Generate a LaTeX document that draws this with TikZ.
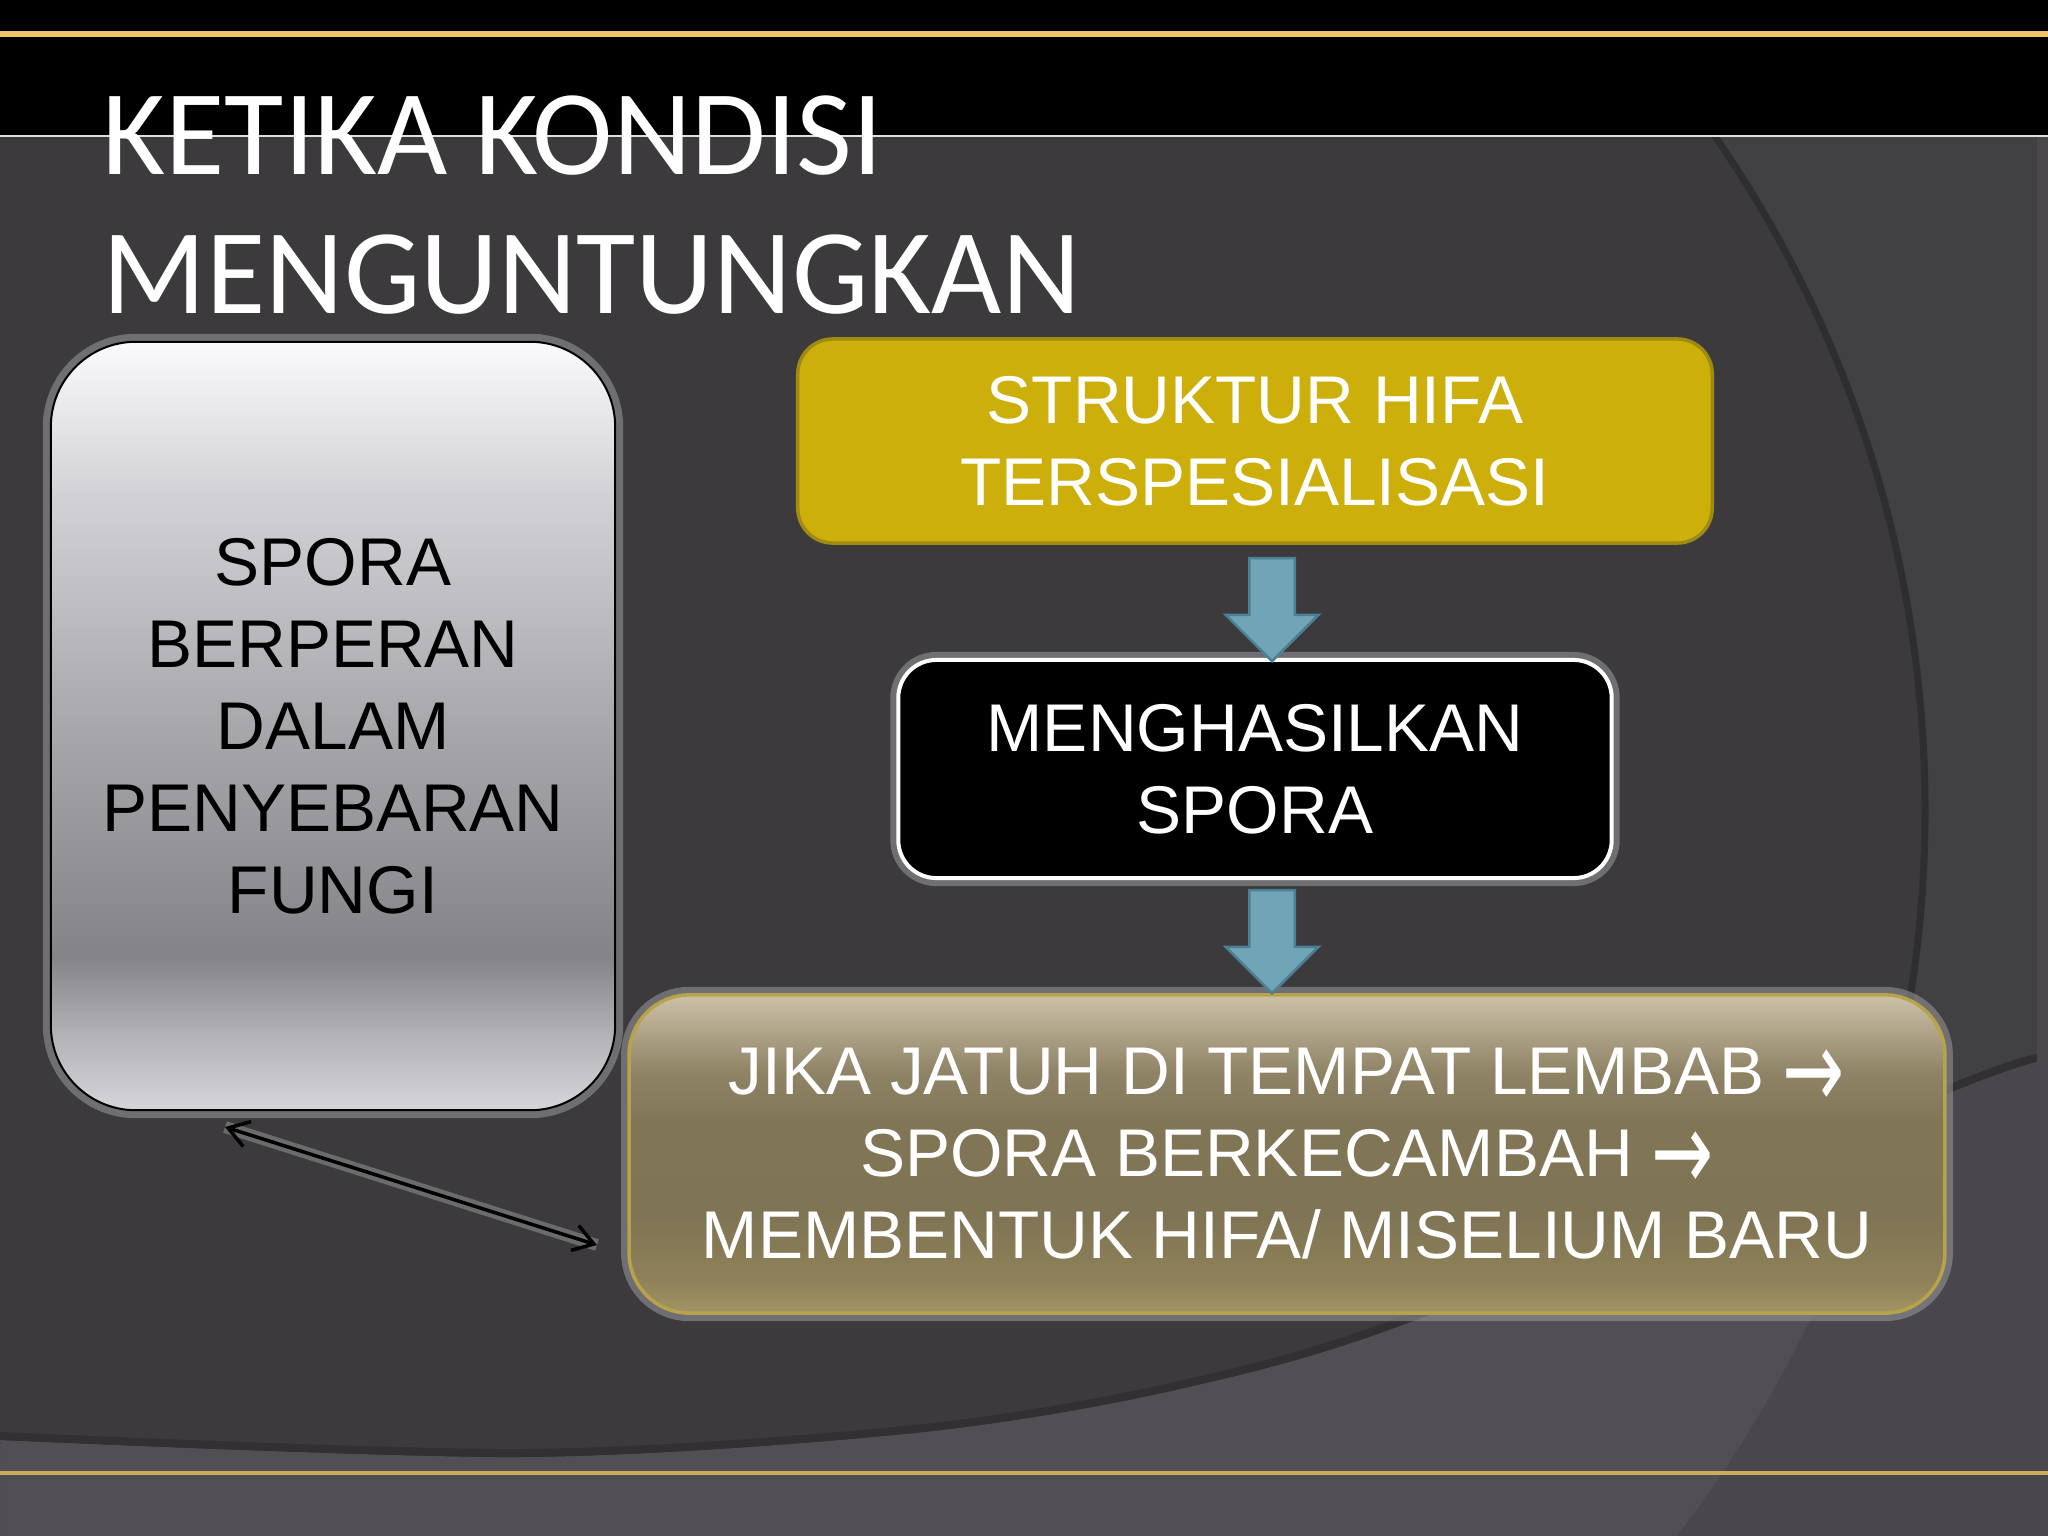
\documentclass[tikz,border=0pt]{standalone}
\usepackage{fontspec}
\setmainfont{Liberation Sans}
\newfontfamily\titlefont{Carlito}
\newfontfamily\arrowfont{DejaVu Sans}
\usetikzlibrary{shapes.arrows,arrows.meta}

\definecolor{bgbase}{HTML}{3C3A3D}
\definecolor{bgright}{HTML}{414042}
\definecolor{bgarc}{HTML}{2E2D30}
\definecolor{bglow}{HTML}{514F53}
\definecolor{bglowright}{HTML}{49474B}
\definecolor{bgband}{HTML}{323033}
\definecolor{bgrim}{HTML}{4A484C}
\definecolor{topgold}{HTML}{F0C366}
\definecolor{botgold}{HTML}{CDAC58}
\definecolor{glowgray}{HTML}{9A9A9E}
\definecolor{hifafill}{HTML}{CDAF0B}
\definecolor{hifaline}{HTML}{9F8A12}
\definecolor{tanline}{HTML}{B8A24A}
\definecolor{arrfill}{HTML}{6FA5B6}
\definecolor{arrline}{HTML}{4C8092}
\definecolor{spA}{HTML}{D6D6DA}
\definecolor{spB}{HTML}{B2B2B6}
\definecolor{spC}{HTML}{848488}
\definecolor{spD}{HTML}{A8A8AC}
\definecolor{spE}{HTML}{D2D2D6}
\definecolor{spF}{HTML}{FAFAFC}
\definecolor{tnA}{HTML}{A39465}
\definecolor{tnB}{HTML}{8F8259}
\definecolor{tnC}{HTML}{7F7454}
\definecolor{tnD}{HTML}{807555}
\definecolor{tnE}{HTML}{8F8466}
\definecolor{tnF}{HTML}{B3A88C}
\definecolor{tnG}{HTML}{CBC1A8}

\pgfdeclareverticalshading{sporashade}{100bp}{color(0bp)=(spA); color(25bp)=(spA); color(30bp)=(spB); color(35bp)=(spC); color(50bp)=(spD); color(65bp)=(spE); color(75bp)=(spF); color(100bp)=(spF)}
\pgfdeclareverticalshading{tanshade}{100bp}{color(0bp)=(tnA); color(25bp)=(tnA); color(30bp)=(tnB); color(40bp)=(tnC); color(55bp)=(tnD); color(63bp)=(tnE); color(70bp)=(tnF); color(75bp)=(tnG); color(100bp)=(tnG)}

\newcommand{\nextstep}{\raisebox{-0.2em}{\scalebox{1.1}[1.65]{\arrowfont →}}}

\begin{document}
\begin{tikzpicture}[x=0.01cm,y=-0.01cm]
  \tikzstyle{box}=[rectangle,align=center,inner sep=0pt,font=\fontsize{19.2}{23.3}\selectfont]
  \tikzstyle{glow}=[preaction={draw=glowgray,line width=0.16cm,opacity=0.55}]
  \tikzstyle{blockarr}=[single arrow,draw=arrline,fill=arrfill,line width=0.025cm,minimum height=1.03cm,minimum width=0.9cm,single arrow head extend=0.235cm,inner xsep=0pt,inner ysep=0.215cm,rotate=-90,anchor=tip]
  \tikzstyle{heading}=[anchor=base west,text=white,inner sep=0pt,font=\titlefont\fontsize{34.5}{40}\selectfont]
  \useasboundingbox (0,0) rectangle (2048,1536);

  \fill[bgbase] (0,0) rectangle (2048,1536);
  \fill[bgright,even odd rule] (0,0) rectangle (2048,1536) (740,810) circle[radius=1185];
  \begin{scope}
    \clip (0,0) rectangle (2048,1536);
    \draw[bgarc,line width=0.07cm] (740,810) circle[radius=1185];
  \end{scope}
  \fill[bglow] plot[smooth] coordinates {(0,1440) (522,1457) (914,1433) (1175,1390) (1423,1317) (1946,1094) (2048,1060)} -- (2048,1536) -- (0,1536) -- cycle;
  \begin{scope}
    \clip plot[smooth] coordinates {(0,1440) (522,1457) (914,1433) (1175,1390) (1423,1317) (1946,1094) (2048,1060)} -- (2048,1536) -- (0,1536) -- cycle;
    \fill[bglowright,even odd rule] (0,0) rectangle (2048,1536) (740,810) circle[radius=1185];
  \end{scope}
  \draw[bgband,line width=0.08cm] plot[smooth] coordinates {(0,1436) (522,1453) (914,1429) (1175,1386) (1423,1313) (1946,1090) (2048,1056)};
  \fill[bgrim] (2037,136) rectangle (2048,1536);
  \fill[botgold] (0,1471) rectangle (2048,1475);

  \fill[black] (0,0) rectangle (2048,136);
  \fill[topgold] (0,31) rectangle (2048,37);
  \fill[white!88!black] (0,135) rectangle (2048,137);

  \node[heading] (T_0) at (102,174) {KETIKA KONDISI};
  \node[heading] (T_1) at (102,313) {MENGUNTUNGKAN};

  \node[box,glow,shade,shading=sporashade,draw=black,line width=0.02cm,rounded corners=0.85cm,minimum width=5.64cm,minimum height=7.68cm] (B_0) at (333,726) {SPORA\\BERPERAN\\DALAM\\PENYEBARAN\\FUNGI};
  \node[box,fill=hifafill,draw=hifaline,line width=0.035cm,rounded corners=0.35cm,minimum width=9.14cm,minimum height=2.04cm,text=white] (B_1) at (1255,441) {STRUKTUR HIFA\\TERSPESIALISASI};
  \node[box,glow,fill=black,draw=white,line width=0.04cm,rounded corners=0.38cm,minimum width=7.13cm,minimum height=2.18cm,text=white] (B_2) at (1255,769) {MENGHASILKAN\\SPORA};
  \node[box,glow,shade,shading=tanshade,draw=tanline,line width=0.035cm,rounded corners=0.6cm,minimum width=13.15cm,minimum height=3.18cm,text=white] (B_3) at (1287,1154) {JIKA JATUH DI TEMPAT LEMBAB \nextstep\\SPORA BERKECAMBAH \nextstep\\MEMBENTUK HIFA/ MISELIUM BARU};

  \node[blockarr] (A_1) at (1272,663) {};
  \node[blockarr] (A_2) at (1272,995) {};

  \coordinate (D_0) at (225,1127);
  \coordinate (D_1) at (597,1245);
  \draw[glowgray,line width=0.12cm,opacity=0.5] (D_0) -- (D_1);
  \draw[black,line width=0.035cm,{Straight Barb[length=0.2cm,width=0.26cm]}-{Straight Barb[length=0.2cm,width=0.26cm]}] (D_0) -- (D_1);
\end{tikzpicture}
\end{document}
